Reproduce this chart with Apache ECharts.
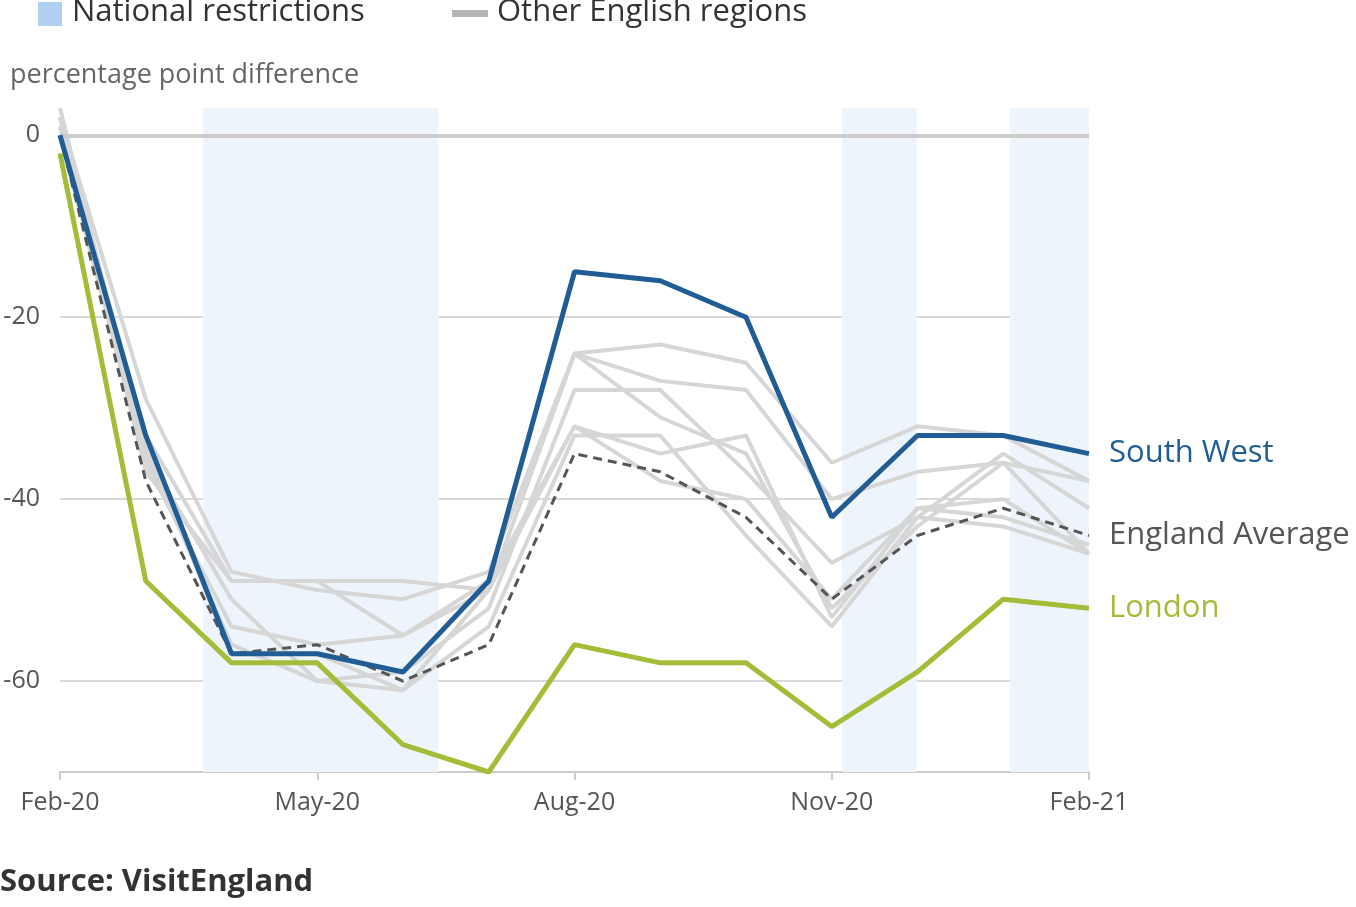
<!DOCTYPE html>
<html>
<head>
<meta charset="utf-8">
<script src="https://cdn.jsdelivr.net/npm/echarts@6/dist/echarts.min.js"></script>
<style>
  html, body { margin: 0; padding: 0; background: #fff; }
  #chart { width: 1356px; height: 907px; }
</style>
</head>
<body>
<div id="chart"></div>
<script>
// months from Feb-20 (0) to Feb-21 (12)
const tickLabels = { 0: 'Feb-20', 3: 'May-20', 6: 'Aug-20', 9: 'Nov-20', 12: 'Feb-21' }

const southWest = [0, -33, -57, -57, -59, -49, -15, -16, -20, -42, -33, -33, -35]
const london = [-2, -49, -58, -58, -67, -70, -56, -58, -58, -65, -59, -51, -52]
const englandAvg = [0, -38, -57, -56, -60, -56, -35, -37, -42, -51, -44, -41, -44]

const otherRegions = [
    [2, -29, -48, -50, -51, -48, -24, -23, -25, -36, -32, -33, -38],
    [1, -33, -49, -49, -49, -50, -24, -27, -28, -40, -37, -36, -38],
    [3, -35, -51, -60, -59, -52, -28, -28, -37, -47, -42, -35, -41],
    [0, -36, -54, -56, -55, -50, -32, -35, -33, -53, -41, -42, -45],
    [1, -35, -56, -60, -61, -54, -33, -33, -44, -54, -42, -43, -46],
    [0, -34, -57, -57, -61, -50, -24, -31, -35, -52, -43, -36, -46],
    [2, -37, -49, -49, -55, -49, -32, -38, -40, -51, -41, -40, -46]
]

// lockdown periods, in months since Feb-20
const restrictions = [[1.67, 4.41], [9.12, 9.99], [11.08, 12]]

const toPoints = arr => arr.map((v, i) => [i, v])
const font = 'Open Sans'

let series = otherRegions.map(r => ({
    type: 'line',
    data: toPoints(r),
    symbol: 'none',
    silent: true,
    lineStyle: { color: '#d6d6d6', width: 4 },
    z: 2
}))

series.push({
    type: 'line',
    data: [],
    markArea: {
        silent: true,
        itemStyle: { color: '#edf4fc' },
        data: restrictions.map(r => [{ xAxis: r[0] }, { xAxis: r[1] }])
    },
    markLine: {
        silent: true,
        symbol: 'none',
        label: { show: false },
        lineStyle: { color: '#cccccc', width: 4, type: 'solid' },
        data: [{ yAxis: 0 }]
    },
    z: 1
})

series.push({
    name: 'England Average',
    type: 'line',
    data: toPoints(englandAvg),
    symbol: 'none',
    lineStyle: { color: '#555', width: 3, type: [9, 6] },
    endLabel: { show: true, formatter: 'England Average', color: '#555', fontSize: 31, fontFamily: font, offset: [12, 0] },
    z: 3
})
series.push({
    name: 'London',
    type: 'line',
    data: toPoints(london),
    symbol: 'none',
    lineStyle: { color: '#a3bd38', width: 5 },
    endLabel: { show: true, formatter: 'London', color: '#a3bd38', fontSize: 31, fontFamily: font, offset: [12, 0] },
    z: 4
})
series.push({
    name: 'South West',
    type: 'line',
    data: toPoints(southWest),
    symbol: 'none',
    lineStyle: { color: '#1f5d94', width: 5 },
    endLabel: { show: true, formatter: 'South West', color: '#1f5d94', fontSize: 31, fontFamily: font, offset: [12, 0] },
    z: 5
})

let EC = echarts.init(document.getElementById('chart'))
EC.setOption({
    animation: false,
    grid: { left: 60, right: 267, top: 108, bottom: 135, containLabel: false },
    xAxis: {
        type: 'value',
        min: 0, max: 12, interval: 3,
        splitLine: { show: false },
        axisLine: { onZero: false, lineStyle: { color: '#ccc', width: 2 } },
        axisTick: { show: true, length: 8, lineStyle: { color: '#ccc', width: 2 } },
        axisLabel: { formatter: v => tickLabels[v] || '', color: '#555', fontSize: 25, fontFamily: font, margin: 18 }
    },
    yAxis: {
        type: 'value',
        min: -70, max: 3, interval: 10,
        axisLine: { show: false },
        axisTick: { show: false },
        splitLine: { lineStyle: { color: ['transparent', '#cccccc'], width: 1.5 } },
        axisLabel: {
            formatter: v => (v % 20 === 0 ? String(v) : ''),
            color: '#555', fontSize: 25, fontFamily: font, margin: 20
        }
    },
    graphic: [
        { type: 'rect', left: 38, top: 2, shape: { width: 24, height: 24 }, style: { fill: '#b0d0f2' } },
        { type: 'text', left: 72, top: -3, style: { text: 'National restrictions', font: '31px "Open Sans"', fill: '#333' } },
        { type: 'rect', left: 452, top: 10, shape: { width: 36, height: 7 }, style: { fill: '#b5b5b5' } },
        { type: 'text', left: 497, top: -3, style: { text: 'Other English regions', font: '31px "Open Sans"', fill: '#333' } },
        { type: 'text', left: 10, top: 62, style: { text: 'percentage point difference', font: '27px "Open Sans"', fill: '#666' } },
        { type: 'text', left: 0, top: 867, style: { text: 'Source: VisitEngland', font: 'bold 31px "Open Sans"', fill: '#333' } }
    ],
    series: series
})
</script>
</body>
</html>
